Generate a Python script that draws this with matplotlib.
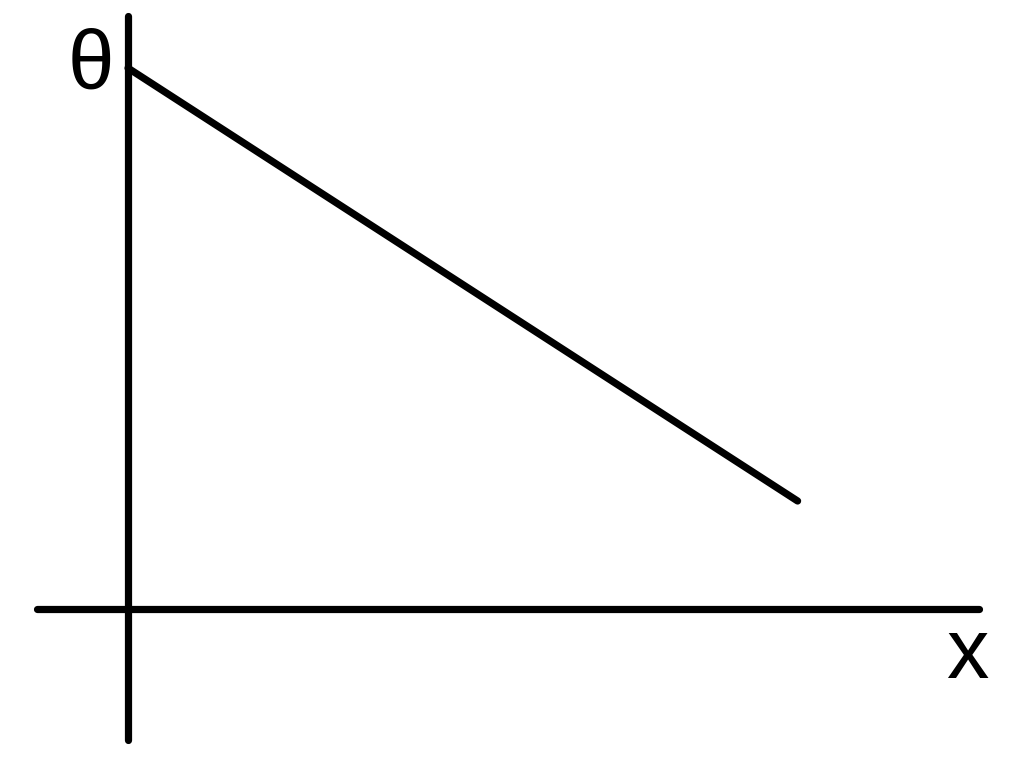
import matplotlib.pyplot as plt

# sketch data (1 unit ~ 90 px on the 1014x773 canvas)
line_x = [0.0, 7.44]
line_theta = [6.01, 1.2]
x_axis_span = [-1.01, 9.46]
theta_axis_span = [-1.46, 6.59]
axis_labels = ['θ', 'x']

fig = plt.figure(figsize=(10.14, 7.73), dpi=100)
ax = fig.add_axes([0, 0, 1, 1])
ax.set_xlim(-128 / 90, 886 / 90)
ax.set_ylim(-164 / 90, 609 / 90)
ax.axis('off')

lw = 5.2
ax.plot(x_axis_span, [0, 0], color='black', lw=lw, solid_capstyle='round')
ax.plot([0, 0], theta_axis_span, color='black', lw=lw, solid_capstyle='round')
ax.plot(line_x, line_theta, color='black', lw=lw, solid_capstyle='round')

ax.text(-0.41, 6.03, axis_labels[0], fontsize=60, family='Liberation Sans',
        ha='center', va='center')
ax.text(9.32, -0.52, axis_labels[1], fontsize=61, family='Liberation Sans',
        ha='center', va='center')

fig.savefig('out.png', dpi=100)
